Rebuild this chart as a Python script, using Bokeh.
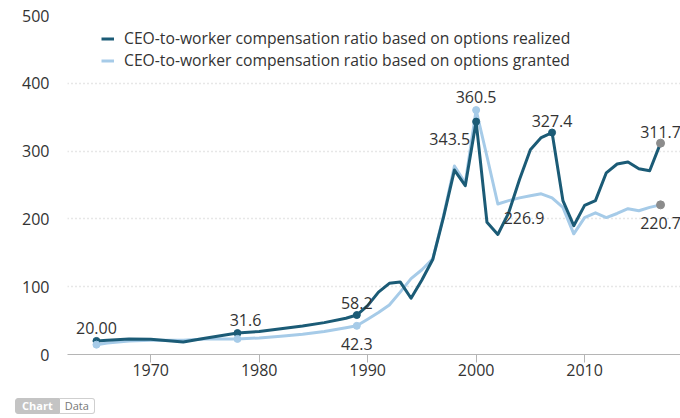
from bokeh.plotting import figure
from bokeh.models import Range1d, ColumnDataSource, LabelSet, Legend, LegendItem, Div, FixedTicker
from bokeh.layouts import column
from bokeh.core.properties import value
from bokeh.embed import file_html
from bokeh.resources import INLINE

# ---------------- data ----------------
years = [1965, 1966, 1968, 1970, 1973, 1975, 1978, 1980, 1982, 1984, 1986, 1988,
         1989, 1990, 1991, 1992, 1993, 1994, 1995, 1996, 1997, 1998, 1999, 2000,
         2001, 2002, 2003, 2004, 2005, 2006, 2007, 2008, 2009, 2010, 2011, 2012,
         2013, 2014, 2015, 2016, 2017]
realized = [20.0, 21, 23, 22.5, 18.5, 24, 31.6, 34, 38, 42, 47, 53.5,
            58.2, 72, 92, 105, 107, 83, 110, 140, 203, 272, 249, 343.5,
            195, 177, 209, 258, 302, 320, 327.4, 227, 190, 220, 227, 268,
            281, 284, 274, 271, 311.7]
granted = [14.5, 17, 20, 21, 21, 23, 23.0, 24.5, 27, 30, 34, 39.5,
           42.3, 52, 62, 73, 92, 112, 125, 141, 205, 278, 253, 360.5,
           292, 222, 226.9, 231, 234, 237, 231, 217, 178, 202, 209, 202,
           208, 215, 212, 217, 220.7]

series_names = ["CEO-to-worker compensation ratio based on options realized",
                "CEO-to-worker compensation ratio based on options granted"]

x_ticks = [1970, 1980, 1990, 2000, 2010]
y_ticks = [0, 100, 200, 300, 400, 500]

# labelled points: (year, series, text)
label_years = [1965, 1965, 1978, 1978, 1989, 1989, 2000, 2000, 2007, 2003, 2017, 2017]
label_series = ["r", "g", "r", "g", "r", "g", "r", "g", "r", "g", "r", "g"]
label_texts = ["20.00", "14.5", "31.6", "23.0", "58.2", "42.3", "343.5", "360.5",
               "327.4", "226.9", "311.7", "220.7"]
marked = [True, True, True, True, True, True, True, True, True, False, False, False]

# ---------------- styling ----------------
DARK = "#1b5b76"
LIGHT = "#a6cbe8"
TEXT = "#333333"
FONT = "Open Sans"

label_dx = [0, 0, 8, 8, 0, 0, -6, 0, 0, -5, 0, 0]
label_dy = [13, -18, 13, -25, 12, -18, -17, 13, 12, -17, 11, -18]
label_align = ["center", "center", "center", "center", "center", "center", "right",
               "center", "center", "left", "center", "center"]

lookup = {"r": dict(zip(years, realized)), "g": dict(zip(years, granted))}
label_vals = [lookup[s][y] for s, y in zip(label_series, label_years)]
label_colors = [DARK if s == "r" else LIGHT for s in label_series]

p = figure(width=680, height=390, output_backend="svg", toolbar_location=None,
           x_range=Range1d(1962.33, 2018.84), y_range=Range1d(0, 500),
           min_border_left=67, min_border_right=0, min_border_top=15, min_border_bottom=36)
p.outline_line_color = None
p.background_fill_color = "white"
p.border_fill_color = "white"

src = ColumnDataSource(dict(x=years, r=realized, g=granted))
lg = p.line("x", "g", source=src, line_color=LIGHT, line_width=3, line_join="round")
lr = p.line("x", "r", source=src, line_color=DARK, line_width=3, line_join="round")

idx = [i for i, m in enumerate(marked) if m]
msrc = ColumnDataSource(dict(x=[label_years[i] for i in idx],
                             y=[label_vals[i] for i in idx],
                             c=[label_colors[i] for i in idx]))
p.scatter("x", "y", source=msrc, size=7, fill_color="c", line_color="c")
p.scatter([years[-1], years[-1]], [realized[-1], granted[-1]], size=8,
          fill_color="#8c8c8c", line_color="#8c8c8c")

lsrc = ColumnDataSource(dict(x=label_years, y=label_vals, t=label_texts,
                             dx=label_dx, dy=label_dy, a=label_align))
labels = LabelSet(x="x", y="y", text="t", source=lsrc, x_offset="dx", y_offset="dy",
                  text_align="a", text_baseline="middle", text_font=value(FONT),
                  text_font_size="16px", text_color=TEXT)
p.add_layout(labels)

# axes
p.xaxis.ticker = FixedTicker(ticks=x_ticks)
p.yaxis.ticker = FixedTicker(ticks=y_ticks)
p.xaxis.axis_line_color = "#b5b5b5"
p.xaxis.major_tick_line_color = "#b5b5b5"
p.xaxis.major_tick_out = 8
p.xaxis.major_tick_in = 0
p.xaxis.minor_tick_line_color = None
p.xaxis.major_label_standoff = 1
p.xaxis.major_label_text_font = FONT
p.xaxis.major_label_text_font_size = "16px"
p.xaxis.major_label_text_color = TEXT

p.yaxis.axis_line_color = None
p.yaxis.major_tick_line_color = None
p.yaxis.minor_tick_line_color = None
p.yaxis.major_tick_out = 0
p.yaxis.major_label_standoff = 18
p.yaxis.major_label_text_font = FONT
p.yaxis.major_label_text_font_size = "16px"
p.yaxis.major_label_text_color = TEXT

p.xgrid.grid_line_color = None
p.ygrid.grid_line_color = "#cfcfcf"
p.ygrid.grid_line_dash = "1 3"
p.ygrid.grid_line_width = 1.5

legend = Legend(items=[LegendItem(label=series_names[0], renderers=[lr]),
                       LegendItem(label=series_names[1], renderers=[lg])],
                location=(34, 283), orientation="vertical")
legend.label_text_font = FONT
legend.label_text_font_size = "15.7px"
legend.label_text_color = TEXT
legend.glyph_width = 13
legend.glyph_height = 15
legend.label_height = 15
legend.label_standoff = 10
legend.spacing = 0
legend.padding = 4
legend.margin = 0
legend.border_line_color = None
legend.background_fill_color = "white"
legend.background_fill_alpha = 0.9
p.add_layout(legend)

btn = ('<div style="display:flex;margin-top:3px;margin-left:10px;font-family:\'Open Sans\';'
       'font-size:11px;line-height:12px;">'
       '<span style="background:#c4c4c4;color:#fff;font-weight:bold;padding:1px 6px;'
       'border:1px solid #c4c4c4;border-radius:3px 0 0 3px;">Chart</span>'
       '<span style="background:#fff;color:#777;padding:1px 5px;border:1px solid #cfcfcf;'
       'border-left:none;border-radius:0 3px 3px 0;">Data</span></div>')
div = Div(text=btn, width=680, height=28)

layout = column(p, div, spacing=0)
open("out.html", "w").write(file_html(layout, INLINE))
